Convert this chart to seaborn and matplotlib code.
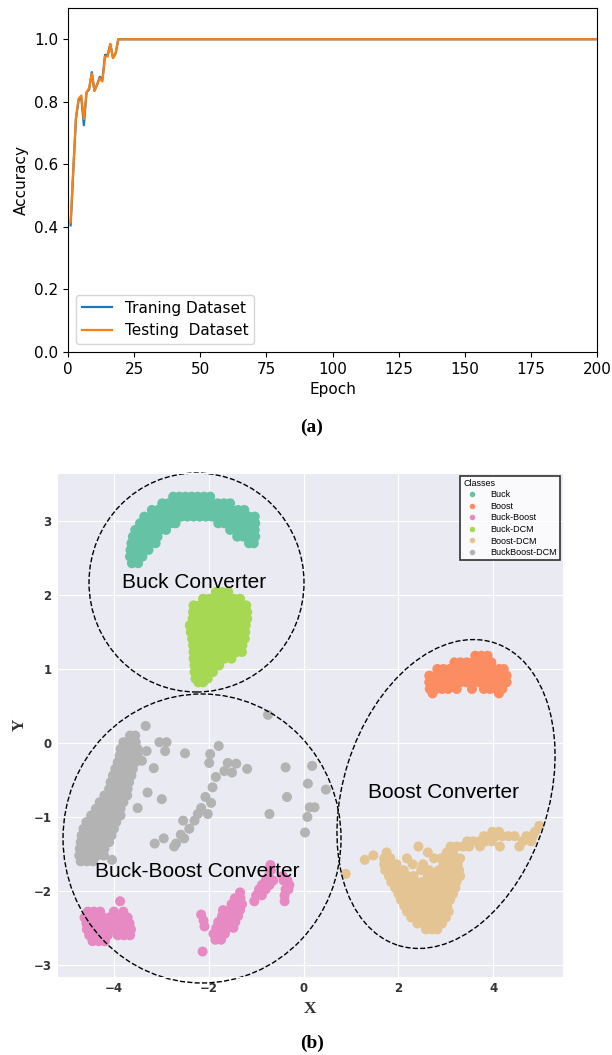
import matplotlib
matplotlib.use("Agg")
import matplotlib.pyplot as plt
import numpy as np
import pandas as pd
import seaborn as sns
from matplotlib.patches import Ellipse

# ---------------- (a) accuracy curves ----------------
epochs = list(range(1, 201))
train_acc = [0.405, 0.58, 0.745, 0.805, 0.815, 0.725, 0.83, 0.84, 0.895, 0.835,
             0.855, 0.88, 0.87, 0.95, 0.95, 0.985, 0.94, 0.955, 1.0] + [1.0] * 181
test_acc = [0.415, 0.58, 0.75, 0.81, 0.82, 0.745, 0.83, 0.845, 0.89, 0.835,
            0.855, 0.875, 0.865, 0.945, 0.945, 0.985, 0.94, 0.955, 1.0] + [1.0] * 181
line_labels = ["Traning Dataset", "Testing  Dataset"]
line_colors = ["#1f77b4", "#ff7f0e"]
x_ticks_a = [0, 25, 50, 75, 100, 125, 150, 175, 200]
y_ticks_a = [0.0, 0.2, 0.4, 0.6, 0.8, 1.0]

# ---------------- (b) 2-D embedding ----------------
class_names = ["Buck", "Boost", "Buck-Boost", "Buck-DCM", "Boost-DCM", "BuckBoost-DCM"]
class_colors = ["#66c2a5", "#fc8d62", "#e78ac3", "#a6d854", "#e5c494", "#b3b3b3"]

# rows: (y, [x values])
buck_rows = [
    (3.33, [-2.75, -2.62, -2.49, -2.36, -2.23, -2.10, -1.97]),
    (3.24, [-2.98, -2.85, -2.72, -2.59, -2.46, -2.33, -2.20, -2.07, -1.94, -1.81, -1.68, -1.55]),
    (3.15, [-3.20, -3.07, -2.94, -2.81, -2.68, -2.55, -2.42, -2.29, -2.16, -2.03, -1.90,
            -1.77, -1.64, -1.51, -1.38, -1.25]),
    (3.06, [-3.36, -3.23, -3.10, -2.97, -2.84, -2.71, -2.58, -2.45, -2.32, -2.19, -2.06,
            -1.93, -1.80, -1.67, -1.54, -1.41, -1.28, -1.15, -1.03]),
    (2.97, [-3.45, -3.32, -3.19, -3.06, -2.93, -2.80, -2.70, -1.80, -1.67, -1.54, -1.41,
            -1.28, -1.15, -1.02]),
    (2.88, [-3.55, -3.42, -3.29, -3.16, -3.03, -2.90, -1.55, -1.42, -1.29, -1.16, -1.03]),
    (2.79, [-3.60, -3.47, -3.34, -3.21, -3.08, -1.40, -1.27, -1.14, -1.02]),
    (2.70, [-3.63, -3.50, -3.37, -3.24, -3.12, -1.15, -1.05]),
    (2.61, [-3.65, -3.52, -3.39, -3.27]),
    (2.52, [-3.66, -3.53, -3.40]),
    (2.43, [-3.62, -3.49]),
]
buck_dcm_rows = [
    (2.04, [-1.85, -1.72, -1.59]),
    (1.95, [-2.12, -1.99, -1.86, -1.73, -1.60, -1.47, -1.34]),
    (1.86, [-2.32, -2.19, -2.06, -1.93, -1.80, -1.67, -1.54, -1.41, -1.28, -1.21]),
    (1.77, [-2.33, -2.20, -2.07, -1.94, -1.81, -1.68, -1.55, -1.42, -1.29, -1.19]),
    (1.68, [-2.34, -2.21, -2.08, -1.95, -1.82, -1.69, -1.56, -1.43, -1.30, -1.19]),
    (1.59, [-2.40, -2.27, -2.14, -2.01, -1.88, -1.75, -1.62, -1.49, -1.36, -1.22]),
    (1.50, [-2.38, -2.25, -2.12, -1.99, -1.86, -1.73, -1.60, -1.47, -1.34, -1.23]),
    (1.41, [-2.35, -2.22, -2.09, -1.96, -1.83, -1.70, -1.57, -1.44, -1.31, -1.24]),
    (1.32, [-2.33, -2.20, -2.07, -1.94, -1.81, -1.68, -1.55, -1.42, -1.29]),
    (1.23, [-2.32, -2.19, -2.06, -1.93, -1.80, -1.67, -1.54, -1.41, -1.30]),
    (1.14, [-2.32, -2.19, -2.06, -1.93, -1.80, -1.67, -1.52]),
    (1.05, [-2.30, -2.17, -2.04, -1.91, -1.78]),
    (0.96, [-2.30, -2.17, -2.04, -1.91]),
    (0.87, [-2.28, -2.15, -2.02]),
    (0.82, [-2.22, -2.12]),
]
boost_rows = [
    (1.18, [3.62, 3.75, 3.88]),
    (1.09, [3.18, 3.31, 3.44, 3.57, 3.70, 3.83, 3.96]),
    (1.00, [2.82, 2.95, 3.08, 3.21, 3.34, 3.47, 3.60, 3.73, 3.86, 3.99, 4.12, 4.22]),
    (0.91, [2.65, 2.78, 2.91, 3.04, 3.17, 3.30, 3.43, 3.56, 3.69, 3.82, 3.95, 4.08, 4.21, 4.28]),
    (0.82, [2.65, 2.78, 2.91, 3.04, 3.17, 3.30, 3.43, 3.56, 3.69, 3.82, 3.95, 4.08, 4.21, 4.28]),
    (0.73, [2.66, 2.79, 2.92, 3.05, 3.23, 3.55, 3.80, 3.93, 4.06, 4.19]),
    (0.67, [2.72, 4.12]),
]
boost_dcm_rows = [
    (-1.12, [4.97]),
    (-1.20, [3.98, 4.12, 4.88]),
    (-1.26, [3.80, 3.93, 4.06, 4.19, 4.32, 4.45, 4.70, 4.83]),
    (-1.33, [3.45, 3.58, 3.71, 3.84, 3.97, 4.62, 4.80]),
    (-1.40, [2.42, 3.10, 3.23, 3.36, 3.49, 3.72, 4.14, 4.55]),
    (-1.48, [1.75, 2.62, 3.02, 3.15]),
    (-1.52, [1.47]),
    (-1.58, [1.29]),
    (-1.56, [1.70, 1.83, 2.18, 2.75, 2.90, 3.05, 3.18, 3.30]),
    (-1.64, [1.70, 1.83, 1.96, 2.30, 2.52, 2.95, 3.10, 3.25]),
    (-1.72, [1.72, 1.85, 1.98, 2.11, 2.48, 2.65, 2.85, 3.00, 3.15, 3.28]),
    (-1.77, [0.89]),
    (-1.80, [1.80, 1.93, 2.06, 2.19, 2.32, 2.62, 2.78, 2.92, 3.05, 3.18, 3.30]),
    (-1.88, [1.85, 1.98, 2.11, 2.24, 2.37, 2.50, 2.70, 2.83, 2.96, 3.09, 3.22]),
    (-1.96, [1.93, 2.06, 2.19, 2.32, 2.45, 2.58, 2.71, 2.84, 2.97, 3.10, 3.20]),
    (-2.04, [2.00, 2.13, 2.26, 2.39, 2.52, 2.65, 2.78, 2.91, 3.04, 3.15]),
    (-2.12, [2.05, 2.18, 2.31, 2.44, 2.57, 2.70, 2.83, 2.96, 3.09]),
    (-2.20, [2.12, 2.25, 2.38, 2.51, 2.64, 2.77, 2.90, 3.03]),
    (-2.28, [2.18, 2.31, 2.44, 2.57, 2.70, 2.83, 2.96, 3.06]),
    (-2.36, [2.27, 2.40, 2.53, 2.66, 2.79, 2.92, 3.00]),
    (-2.44, [2.40, 2.53, 2.66, 2.79, 2.92]),
    (-2.52, [2.58, 2.71, 2.82]),
]
buck_boost_rows = [
    (-1.65, [-0.70]),
    (-1.72, [-0.69]),
    (-1.80, [-0.74, -0.44]),
    (-1.86, [-0.80, -0.64, -0.42, -0.34]),
    (-1.92, [-0.88, -0.72, -0.30]),
    (-1.98, [-0.94, -0.80, -0.38, -0.32]),
    (-2.02, [-1.34]),
    (-2.06, [-1.00, -0.88, -0.40]),
    (-2.10, [-1.45, -1.33]),
    (-2.14, [-3.87, -1.04, -0.40]),
    (-2.18, [-1.52, -1.40, -1.30]),
    (-2.26, [-1.70, -1.56, -1.44, -1.34]),
    (-2.28, [-4.55, -4.42, -4.29, -4.00, -3.80]),
    (-2.32, [-2.16]),
    (-2.34, [-1.72, -1.60, -1.48, -1.38]),
    (-2.36, [-4.62, -4.49, -4.36, -4.23, -4.10, -3.97, -3.84, -3.71]),
    (-2.40, [-2.11]),
    (-2.42, [-1.80, -1.68, -1.56, -1.44]),
    (-2.44, [-4.58, -4.45, -4.32, -4.19, -4.06, -3.93, -3.80, -3.67]),
    (-2.48, [-2.09]),
    (-2.50, [-1.84, -1.72, -1.60, -1.48]),
    (-2.52, [-4.57, -4.44, -4.31, -4.18, -3.98, -3.85, -3.72, -3.64]),
    (-2.58, [-1.90, -1.78, -1.66]),
    (-2.60, [-4.52, -4.39, -4.26, -4.13, -3.92, -3.79, -3.66]),
    (-2.66, [-1.86, -1.74]),
    (-2.68, [-4.45, -4.32, -4.19]),
    (-2.82, [-2.13]),
]
buckboost_dcm_rows = [
    (0.38, [-0.75]),
    (0.23, [-3.33]),
    (0.10, [-3.66, -3.55]),
    (0.01, [-3.80, -3.67, -3.54, -3.04, -2.89]),
    (-0.04, [-1.79]),
    (-0.08, [-3.86, -3.73, -3.60, -3.50]),
    (-0.11, [-3.31, -2.92]),
    (-0.14, [-2.50]),
    (-0.15, [-1.97]),
    (-0.17, [-3.88, -3.75, -3.62, -3.50]),
    (-0.24, [-3.41]),
    (-0.26, [-3.92, -3.79, -3.66, -3.55]),
    (-0.27, [-1.99, -1.60]),
    (-0.28, [-1.42]),
    (-0.31, [0.18]),
    (-0.33, [-0.38]),
    (-0.34, [-3.16]),
    (-0.35, [-3.97, -3.84, -3.71, -3.60, -1.19]),
    (-0.38, [-1.67]),
    (-0.40, [-1.51]),
    (-0.44, [-4.02, -3.89, -3.76, -3.63]),
    (-0.46, [-1.85]),
    (-0.53, [-4.07, -3.94, -3.81, -3.68]),
    (-0.55, [0.09]),
    (-0.60, [-1.92]),
    (-0.62, [-4.10, -3.97, -3.84, -3.71]),
    (-0.63, [0.47]),
    (-0.67, [-3.29]),
    (-0.71, [-4.20, -4.07, -3.94, -3.81, -3.72]),
    (-0.73, [-2.07, -0.35]),
    (-0.76, [-2.99]),
    (-0.80, [-4.30, -4.17, -4.04, -3.91, -3.80]),
    (-0.81, [-1.95]),
    (-0.87, [0.13, 0.23]),
    (-0.88, [-3.50, -2.16]),
    (-0.89, [-4.38, -4.25, -4.12, -3.99, -3.86]),
    (-0.96, [-2.23, -2.02, -0.72]),
    (-0.98, [-4.48, -4.35, -4.22, -4.09, -3.96, -3.86]),
    (-1.00, [0.08]),
    (-1.05, [-2.54, -2.30]),
    (-1.07, [-4.58, -4.45, -4.32, -4.19, -4.06, -3.95]),
    (-1.16, [-4.64, -4.51, -4.38, -4.25, -4.12, -4.00, -2.41]),
    (-1.21, [0.03]),
    (-1.24, [-2.59]),
    (-1.25, [-4.68, -4.55, -4.42, -4.29, -4.16, -4.05]),
    (-1.29, [-2.95, -2.52]),
    (-1.34, [-4.70, -4.57, -4.44, -4.31, -4.18, -4.10]),
    (-1.36, [-3.14, -2.69]),
    (-1.40, [-2.73]),
    (-1.43, [-4.72, -4.59, -4.46, -4.33, -4.20]),
    (-1.52, [-4.73, -4.60, -4.47, -4.34, -4.21]),
    (-1.58, [-4.04]),
    (-1.60, [-4.70, -4.57, -4.44]),
]
annot_texts = ["Buck Converter", "Boost Converter", "Buck-Boost Converter"]
annot_x = [-2.30, 2.96, -2.24]
annot_y = [2.10, -0.75, -1.81]


def expand(rows, name):
    xs, ys = [], []
    for yv, xrow in rows:
        xs.extend(xrow)
        ys.extend([yv] * len(xrow))
    return pd.DataFrame({"X": xs, "Y": ys, "Class": name})


df_b = pd.concat([
    expand(buck_rows, "Buck"),
    expand(boost_rows, "Boost"),
    expand(buck_boost_rows, "Buck-Boost"),
    expand(buck_dcm_rows, "Buck-DCM"),
    expand(boost_dcm_rows, "Boost-DCM"),
    expand(buckboost_dcm_rows, "BuckBoost-DCM"),
], ignore_index=True)

df_a = pd.DataFrame({
    "Epoch": epochs + epochs,
    "Accuracy": train_acc + test_acc,
    "Dataset": [line_labels[0]] * len(epochs) + [line_labels[1]] * len(epochs),
})

W, H = 612, 1055
fig = plt.figure(figsize=(W / 100, H / 100), dpi=100)

# ---- top panel ----
ax1 = fig.add_axes([68 / W, 1 - 352 / H, 529 / W, 344 / H])
sns.lineplot(data=df_a, x="Epoch", y="Accuracy", hue="Dataset",
             hue_order=line_labels, palette=line_colors, linewidth=1.6, ax=ax1)
ax1.set_xlim(0, 200)
ax1.set_ylim(0, 1.1)
ax1.set_xticks(x_ticks_a)
ax1.set_yticks(y_ticks_a)
ax1.tick_params(labelsize=11)
ax1.set_xlabel("Epoch", fontsize=11)
ax1.set_ylabel("Accuracy", fontsize=11)
h1, l1 = ax1.get_legend_handles_labels()
ax1.legend(h1, l1, loc="lower left", fontsize=11)

fig.text(0.509, 1 - 427 / H, "(a)", ha="center", va="center",
         fontfamily="Liberation Serif", fontweight="bold", fontsize=14)

# ---- bottom panel ----
with sns.axes_style("darkgrid"):
    ax2 = fig.add_axes([57 / W, 1 - 976.7 / H, 506 / W, 503.7 / H])
sns.scatterplot(data=df_b, x="X", y="Y", hue="Class", hue_order=class_names,
                palette=dict(zip(class_names, class_colors)), s=52, linewidth=0,
                ax=ax2)
ax2.set_xlim(-5.2, 5.47)
ax2.set_ylim(-3.16, 3.65)
ax2.set_xticks([-4, -2, 0, 2, 4])
ax2.set_yticks([-3, -2, -1, 0, 1, 2, 3])
for lab in ax2.get_xticklabels() + ax2.get_yticklabels():
    lab.set_fontweight("bold")
    lab.set_fontsize(8.5)
    lab.set_color("#333333")
ax2.tick_params(length=0, pad=4)
ax2.set_xlabel("X", fontfamily="Liberation Serif", fontweight="bold", fontsize=12.5, color="#333333")
ax2.set_ylabel("Y", fontfamily="Liberation Serif", fontweight="bold", fontsize=12.5, color="#333333")

for t, tx, ty in zip(annot_texts, annot_x, annot_y):
    ax2.text(tx, ty, t, ha="center", va="baseline", fontsize=15,
             fontfamily="Liberation Sans", color="black")

ell_specs = [
    ((0.2757, 0.7826), 0.4249, 0.4348, 0),
    ((0.2866, 0.2744), 0.5494, 0.5738, 0),
    ((0.7688, 0.3627), 0.4063, 0.6300, -17.4),
]
for c, w, h, ang in ell_specs:
    e = Ellipse(c, w, h, angle=ang, transform=ax2.transAxes, fill=False,
                edgecolor="black", linestyle="--", linewidth=1.0, clip_on=False)
    ax2.add_patch(e)

h2, l2 = ax2.get_legend_handles_labels()
leg = ax2.legend(h2, l2, title="Classes", loc="upper right",
                 title_fontsize=6.5, labelspacing=0.28, borderaxespad=0.3,
                 markerscale=0.55, fancybox=False, edgecolor="black",
                 handletextpad=1.0, borderpad=0.35,
                 prop={"family": "Liberation Sans", "size": 6.5})
leg.get_frame().set_linewidth(1.2)
leg._legend_box.align = "left"
leg.get_title().set_fontfamily("Liberation Sans")

fig.text(0.5106, 1 - 1043 / H, "(b)", ha="center", va="center",
         fontfamily="Liberation Serif", fontweight="bold", fontsize=14)

fig.savefig("out.png", dpi=100)
